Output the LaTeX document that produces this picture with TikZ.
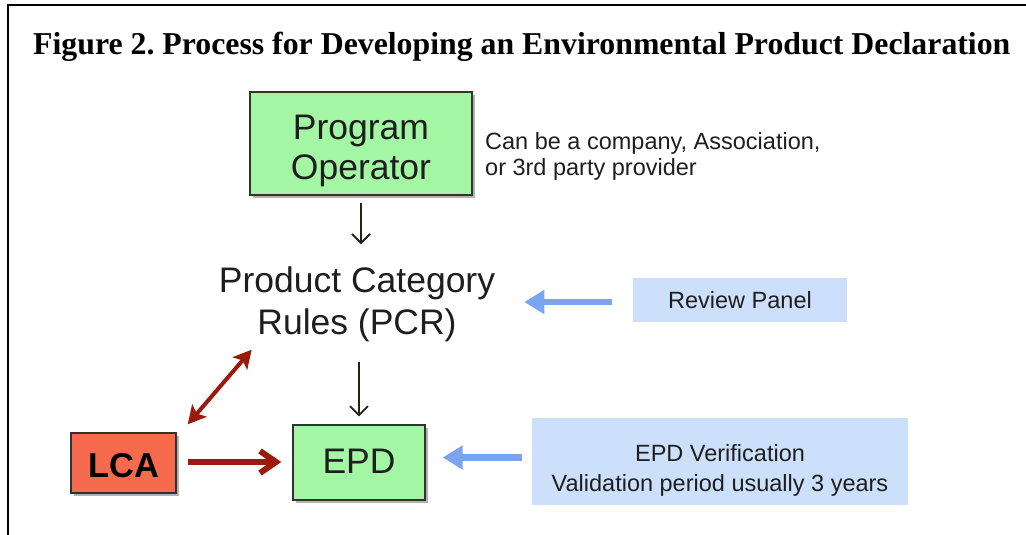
\documentclass[tikz,border=0pt]{standalone}
\usepackage{fontspec}
\setmainfont{Liberation Serif}
\newfontfamily\arialf{Liberation Sans}
\usetikzlibrary{arrows.meta,shadows}
\frenchspacing
\definecolor{boxgreen}{RGB}{162,246,164}
\definecolor{boxblue}{RGB}{204,224,251}
\definecolor{lcared}{RGB}{246,106,77}
\definecolor{arrred}{RGB}{155,26,12}
\definecolor{arrblue}{RGB}{122,164,240}
\definecolor{arrdark}{RGB}{40,32,24}
\definecolor{txtdark}{RGB}{30,30,30}
\definecolor{edgedark}{RGB}{50,50,50}
\tikzset{
  shadowed/.style={drop shadow={shadow xshift=2.5pt, shadow yshift=-3pt, opacity=0.3, fill=black}},
  greenbox/.style={shadowed, draw=edgedark, line width=1.4pt, fill=boxgreen, inner sep=0pt},
  boxtext/.style={align=center, text=txtdark, inner sep=0pt, font=\arialf\fontsize{35.5}{40}\selectfont},
  lcabox/.style={shadowed, draw=edgedark, line width=1.4pt, fill=lcared, inner sep=0pt},
  lcatext/.style={inner sep=0pt, text=black, font=\arialf\bfseries\fontsize{34.5}{40}\selectfont},
  bluebox/.style={fill=boxblue, inner sep=0pt},
  bluetext/.style={inner sep=0pt, align=center, text=txtdark, font=\arialf\fontsize{23.5}{30}\selectfont},
  darkarrow/.style={draw=arrdark, line width=1.8pt, -{Straight Barb[length=9pt,width=18pt]}},
  redarrow/.style={draw=arrred, line width=6pt, -{Straight Barb[length=16pt,width=22pt]}},
  reddouble/.style={draw=arrred, line width=4pt, {Stealth[length=18pt,width=19pt,inset=4pt]}-{Stealth[length=18pt,width=19pt,inset=4pt]}},
  bluearrow/.style={draw=arrblue, line width=6.5pt, -{Triangle[length=20pt,width=23pt]}},
}
\begin{document}
\begin{tikzpicture}[x=1pt,y=-1pt]
\useasboundingbox (0,0) rectangle (1026,535);
% frame
\coordinate (fbl) at (8,535);
\coordinate (ftl) at (8,5);
\coordinate (ftr) at (1026,5);
\draw[line width=2pt, line cap=rect] (fbl) -- (ftl) -- (ftr);
% title
\node[anchor=base west, inner sep=0pt, font=\bfseries\fontsize{31.8}{36}\selectfont] (title) at (33,55)
  {Figure 2. Process for Developing an Environmental Product Declaration};
% nodes
\node[greenbox, minimum width=222pt, minimum height=103pt] (po) at (361,143.5) {};
\node[boxtext] (potext) at (361,150.5) {Program\\Operator};
\node[anchor=west, inner sep=0pt, align=left, text=txtdark, font=\arialf\fontsize{23.5}{26.5}\selectfont] (side) at (485,156.5)
  {Can be a company, Association,\\or 3rd party provider};
\node[boxtext] (pcr) at (357,304) {Product Category\\[2pt]Rules (PCR)};
\node[bluebox, minimum width=214pt, minimum height=44pt] (rp) at (740,300) {};
\node[bluetext] (rptext) at (740,300) {Review Panel};
\node[greenbox, minimum width=132pt, minimum height=75pt] (epd) at (359,462.5) {};
\node[boxtext] (epdtext) at (359,461) {EPD};
\node[lcabox, minimum width=105pt, minimum height=60pt] (lca) at (123.5,463) {};
\node[lcatext] (lcatext) at (123.5,466) {LCA};
\node[bluebox, minimum width=376pt, minimum height=87pt] (ev) at (720,461.5) {};
\node[bluetext] (evtext) at (720,470) {EPD Verification\\Validation period usually 3 years};
% connectors
\draw[darkarrow, shorten <=7pt, shorten >=22pt] (po.south) -- (po.south |- pcr.north);
\draw[darkarrow, shorten <=20pt, shorten >=8pt] (epd.north |- pcr.south) -- (epd.north);
\draw[bluearrow, shorten <=21pt, shorten >=29pt] ([yshift=-2pt]rp.west) -- ([yshift=-2pt]rp.west -| pcr.east);
\draw[bluearrow, shorten <=10pt, shorten >=17pt] ([yshift=4pt]ev.west) -- ([yshift=4pt]ev.west -| epd.east);
\draw[redarrow, shorten <=11pt, shorten >=11pt] ([yshift=1pt]lca.east) -- ([yshift=1pt]lca.east -| epd.west);
\draw[reddouble] ([shift={(11,-8)}]lca.north east) -- ([shift={(33,8)}]pcr.south west);
\end{tikzpicture}
\end{document}
